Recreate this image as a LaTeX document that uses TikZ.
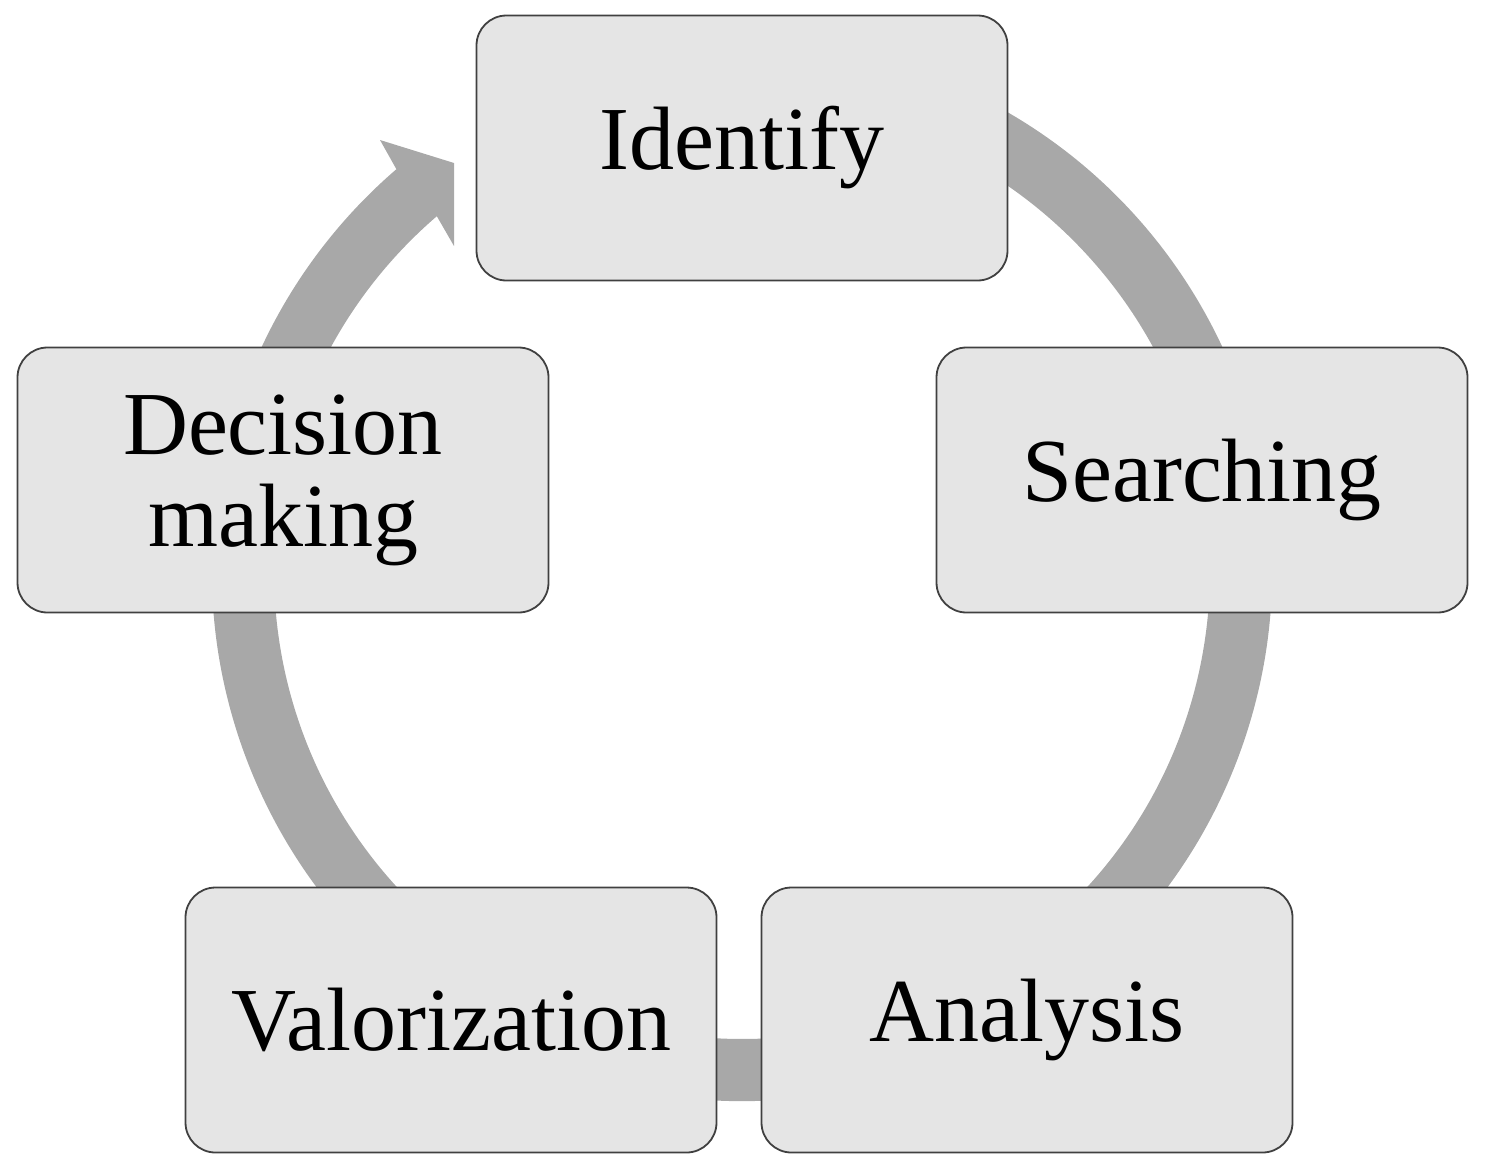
\documentclass[tikz,border=0pt]{standalone}
\usepackage{fontspec}
\setmainfont{Liberation Serif}
\begin{document}
\begin{tikzpicture}[x=1pt,y=1pt,
  box/.style={draw=black!75,line width=1.8pt,fill=black!10,rounded corners=30pt,minimum width=531pt,minimum height=265pt,align=center,font=\fontsize{90}{92}\selectfont,inner sep=0pt}]
\useasboundingbox (0,0) rectangle (1488,-1173);
\fill[fill=black!34] ([shift={(70:530)}]742,-571) arc[start angle=70,end angle=-229.3,radius=530]
  -- (380,-140) -- (454,-163) -- (454,-246) -- ([shift={(-229.3:468)}]742,-571)
  arc[start angle=-229.3,end angle=70,radius=468] -- cycle;
\node[box] (i) at (742,-148) {Identify};
\node[box] (s) at (1202,-480) {Searching};
\node[box] (a) at (1027,-1020) {Analysis};
\node[box] (v) at (451,-1020) {Valorization};
\node[box] (d) at (283,-480) {Decision\\making};
\end{tikzpicture}
\end{document}
